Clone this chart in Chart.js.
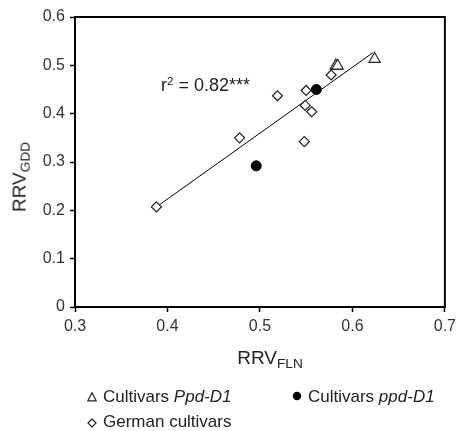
<!DOCTYPE html>
<html>
<head>
<meta charset="utf-8">
<script src="https://cdn.jsdelivr.net/npm/chart.js@4/dist/chart.umd.min.js"></script>
<style>
body{margin:0;background:#fff;font-family:"Liberation Sans",Arial,sans-serif;color:#222}
#wrap{position:relative;width:461px;height:431px;overflow:hidden}
canvas{position:absolute;left:0;top:0}
.lbl{position:absolute;white-space:nowrap;line-height:1}
.lbl sub{font-size:72%;vertical-align:-0.3em}
.lbl sup{font-size:65%;vertical-align:0.55em}
svg.sym{position:absolute}
</style>
</head>
<body>
<div id="wrap">
<canvas id="myChart" width="461" height="431"></canvas>
<div class="lbl" id="ytitle" style="left:20.5px;top:177px;font-size:19px;transform:translate(-50%,-50%) rotate(-90deg)">RRV<sub>GDD</sub></div>
<div class="lbl" id="xtitle" style="left:270px;top:347.5px;font-size:19px;transform:translateX(-50%)">RRV<sub>FLN</sub></div>
<div class="lbl" id="rsq" style="left:161px;top:74.5px;font-size:18px">r<sup>2</sup> = 0.82***</div>

<svg class="sym" style="left:87px;top:392px" width="10" height="10"><polygon points="5,0.8 9.2,8.8 0.8,8.8" fill="#fff" stroke="#222" stroke-width="1.2"/></svg>
<div class="lbl" style="left:103px;top:388px;font-size:17px">Cultivars <i>Ppd-D1</i></div>
<svg class="sym" style="left:292px;top:391px" width="10" height="10"><circle cx="5" cy="5" r="4.2" fill="#000"/></svg>
<div class="lbl" style="left:308px;top:388px;font-size:17px">Cultivars <i>ppd-D1</i></div>
<svg class="sym" style="left:87px;top:418px" width="10" height="10"><polygon points="5,1 9,5 5,9 1,5" fill="#fff" stroke="#222" stroke-width="1.2"/></svg>
<div class="lbl" style="left:103px;top:413px;font-size:17px">German cultivars</div>
</div>
<script>
// values
let ppdX = [0.582, 0.584, 0.624];
let ppdY = [0.499, 0.499, 0.513];

let ppdlX = [0.561, 0.496];
let ppdlY = [0.450, 0.292];

let gerX = [0.388, 0.478, 0.519, 0.550, 0.549, 0.556, 0.548, 0.577];
let gerY = [0.207, 0.350, 0.437, 0.448, 0.417, 0.404, 0.342, 0.480];

let fitX = [0.388, 0.622];
let fitY = [0.207, 0.526];

let xTicks = [0.3, 0.4, 0.5, 0.6, 0.7];
let yTicks = [0, 0.1, 0.2, 0.3, 0.4, 0.5, 0.6];

function pts(xs, ys){
    return xs.map((x, i) => ({x: x, y: ys[i]}));
}

var boxPlugin = {
    id: 'box',
    afterDraw(chart){
        var a = chart.chartArea, c = chart.ctx;
        c.save();
        c.strokeStyle = '#000';
        c.lineWidth = 2;
        c.strokeRect(a.left, a.top, a.right - a.left, a.bottom - a.top);
        c.restore();
    }
};

var tickFont = {family: '"Liberation Sans", Arial, sans-serif', size: 16};

var ctx = document.getElementById("myChart").getContext("2d");
var myChart = new Chart(ctx, {
    type: 'scatter',
    data: {
        datasets: [{
            type: 'line',
            data: pts(fitX, fitY),
            borderColor: '#000',
            borderWidth: 1,
            pointRadius: 0,
            fill: false,
            order: 5
        }, {
            label: 'Cultivars Ppd-D1',
            data: pts(ppdX, ppdY),
            pointStyle: 'triangle',
            pointRadius: 6.5,
            backgroundColor: '#fff',
            borderColor: '#222',
            borderWidth: 1.2
        }, {
            label: 'Cultivars ppd-D1',
            data: pts(ppdlX, ppdlY),
            pointStyle: 'circle',
            pointRadius: 5,
            backgroundColor: '#000',
            borderColor: '#000',
            borderWidth: 1
        }, {
            label: 'German cultivars',
            data: pts(gerX, gerY),
            pointStyle: 'rectRot',
            pointRadius: 5,
            backgroundColor: '#fff',
            borderColor: '#222',
            borderWidth: 1.2
        }]
    },
    options: {
        responsive: false,
        animation: false,
        layout: {padding: {top: 17, right: 10, left: 0, bottom: 0}},
        plugins: {legend: {display: false}, tooltip: {enabled: false}},
        scales: {
            x: {
                type: 'linear',
                min: 0.3, max: 0.7,
                afterBuildTicks: s => { s.ticks = xTicks.map(v => ({value: v})); },
                afterFit: s => { s.height = 124; },
                border: {display: true, color: '#000', width: 2},
                grid: {drawOnChartArea: false, tickLength: 5, tickColor: '#000', tickWidth: 1.5},
                ticks: {color: '#333', font: tickFont, padding: 5, maxRotation: 0,
                    callback: v => v.toFixed(1)}
            },
            y: {
                type: 'linear',
                min: 0, max: 0.6,
                afterBuildTicks: s => { s.ticks = yTicks.map(v => ({value: v})); },
                afterFit: s => { s.width = 75; },
                border: {display: true, color: '#000', width: 2},
                grid: {drawOnChartArea: false, tickLength: 5, tickColor: '#000', tickWidth: 1.5},
                ticks: {color: '#333', font: tickFont, padding: 5,
                    callback: v => v === 0 ? '0' : v.toFixed(1)}
            }
        }
    },
    plugins: [boxPlugin]
});
</script>
</body>
</html>
